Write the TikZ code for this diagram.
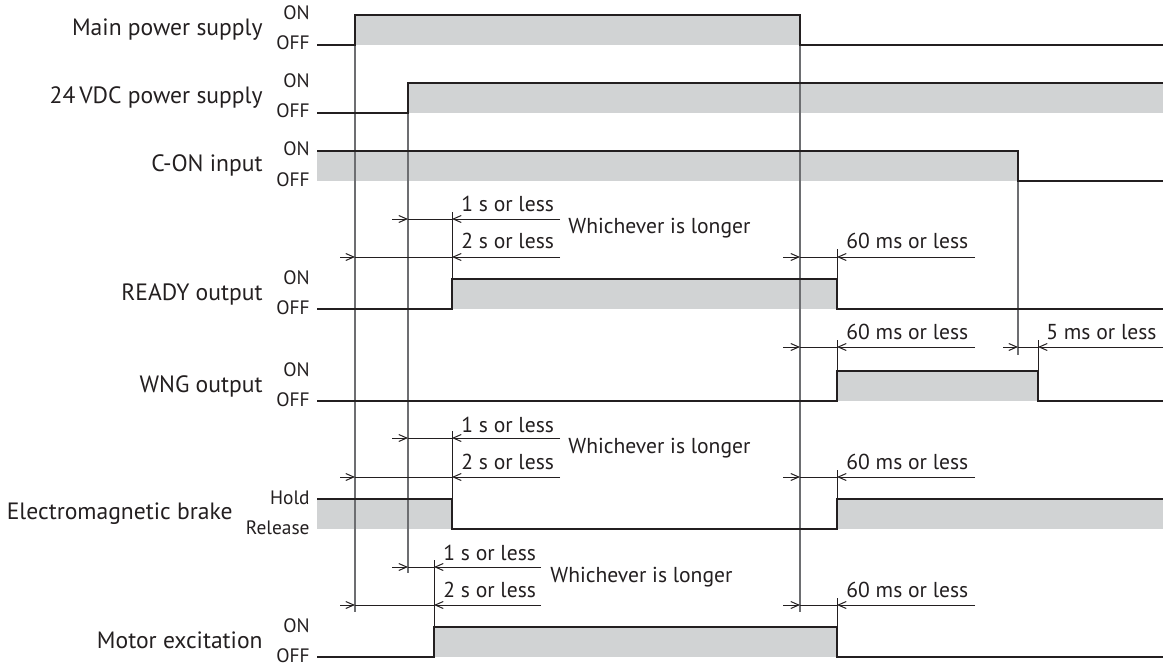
\documentclass[tikz,border=0pt]{standalone}
\usepackage{fontspec}
\setmainfont{PT Sans}
\usepackage{tikz}
\usetikzlibrary{arrows.meta}
\definecolor{ink}{HTML}{231F20}
\definecolor{onfill}{HTML}{D1D3D4}
\definecolor{guide}{HTML}{6D6E71}

\begin{document}
\begin{tikzpicture}[x=0.5pt,y=-0.5pt,
    sig/.style={ink,line width=1pt},
    onarea/.style={fill=onfill},
    guideline/.style={guide,line width=0.75pt},
    dimline/.style={ink,line width=0.5pt},
    dimtip/.style={dimline,-{Straight Barb[length=4pt,width=3.5pt]}},
    sigtitle/.style={anchor=base east,inner sep=0pt,ink,font=\fontsize{11.8}{13}\selectfont},
    levelname/.style={anchor=base east,inner sep=0pt,ink,font=\fontsize{9.7}{11}\selectfont},
    gaptext/.style={anchor=base west,inner sep=0pt,ink,font=\fontsize{10.8}{12}\selectfont}]
  \useasboundingbox (0,0) rectangle (1165,668);
  % signal names and levels
  \node[sigtitle] (main) at (263,36) {Main power supply};
  \node[sigtitle] (vdc) at (263,104) {24\,VDC power supply};
  \node[sigtitle] (con) at (263,172) {C-ON input};
  \node[sigtitle] (ready) at (263,300) {READY output};
  \node[sigtitle] (wng) at (263,392) {WNG output};
  \node[sigtitle] (brake) at (233,519) {Electromagnetic brake};
  \node[sigtitle] (motor) at (263,648) {Motor excitation};
  \foreach \y/\t in {15/ON,45/OFF,83/ON,113/OFF,151/ON,181/OFF,279/ON,309/OFF,371/ON,401/OFF,627/ON,657/OFF,499/Hold,529/Release}
    \node[levelname] (lv-\y) at (310,\y+5) {\t};
  % shaded ON areas
  \fill[onarea] (355,15) rectangle (800,45);
  \fill[onarea] (408,83) rectangle (1163,113);
  \fill[onarea] (317,151) rectangle (1018,181);
  \fill[onarea] (452,279) rectangle (837,309);
  \fill[onarea] (837,371) rectangle (1038,401);
  \fill[onarea] (317,499) rectangle (452,529);
  \fill[onarea] (837,499) rectangle (1163,529);
  \fill[onarea] (434,627) rectangle (837,657);
  % reference lines
  \draw[guideline] (355,15) -- (355,612);
  \draw[guideline] (800,15) -- (800,612);
  \draw[guideline] (408,83) -- (408,573);
  \draw[guideline] (1018,151) -- (1018,355);
  % waveforms
  \draw[sig] (317,45) -- (355,45) -- (355,15) -- (800,15) -- (800,45) -- (1163,45);
  \draw[sig] (317,113) -- (408,113) -- (408,83) -- (1163,83);
  \draw[sig] (317,151) -- (1018,151) -- (1018,181) -- (1163,181);
  \draw[sig] (317,309) -- (452,309) -- (452,279) -- (837,279) -- (837,309) -- (1163,309);
  \draw[sig] (317,401) -- (837,401) -- (837,371) -- (1038,371) -- (1038,401) -- (1163,401);
  \draw[sig] (317,499) -- (452,499) -- (452,529) -- (837,529) -- (837,499) -- (1163,499);
  \draw[sig] (317,657) -- (434,657) -- (434,627) -- (837,627) -- (837,657) -- (1163,657);
  % extension lines at the edges
  \foreach \x/\a/\b in {452/212/279,837/249/279,837/340/371,1038/340/371,452/431/499,837/470/499,434/560/627,837/598/627}
    \draw[dimline] (\x,\a) -- (\x,\b);
  % time gaps
  \foreach \y/\a/\g/\e/\t in {219/392/408/452/560,257/340/355/452/560,257/783/800/837/975,
      347/783/800/837/975,347/1003/1018/1038/1163,438/392/408/452/560,477/340/355/452/560,
      477/783/800/837/975,567/392/408/434/541,605/340/355/434/541,605/783/800/837/975}{
    \draw[dimtip] (\a,\y) -- (\g,\y);
    \draw[dimline] (\g,\y) -- (\e,\y);
    \draw[dimtip] (\t,\y) -- (\e,\y);
  }
  \node[gaptext] (r1) at (461,212) {1 s or less};
  \node[gaptext] (r2) at (461,249) {2 s or less};
  \node[gaptext] (rw) at (568,233) {Whichever is longer};
  \node[gaptext] (r60) at (846,249) {60 ms or less};
  \node[gaptext] (w60) at (846,339) {60 ms or less};
  \node[gaptext] (w5) at (1046,339) {5 ms or less};
  \node[gaptext] (b1) at (461,432) {1 s or less};
  \node[gaptext] (b2) at (461,469) {2 s or less};
  \node[gaptext] (bw) at (568,453) {Whichever is longer};
  \node[gaptext] (b60) at (846,469) {60 ms or less};
  \node[gaptext] (m1) at (443,560) {1 s or less};
  \node[gaptext] (m2) at (443,597) {2 s or less};
  \node[gaptext] (mw) at (550,582) {Whichever is longer};
  \node[gaptext] (m60) at (846,597) {60 ms or less};
\end{tikzpicture}
\end{document}
